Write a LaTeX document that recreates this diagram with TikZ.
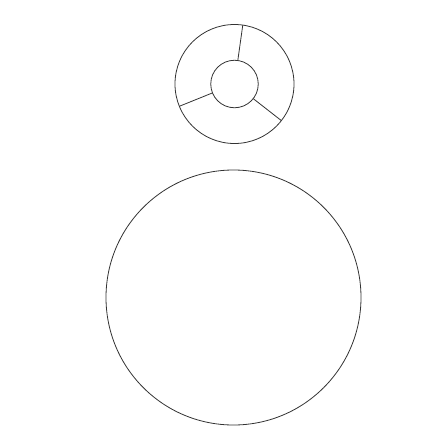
\documentclass[tikz,border=0pt]{standalone}
\usetikzlibrary{positioning}
\begin{document}
\begin{tikzpicture}[x=1pt, y=-1pt]
    % Define styles
    \tikzstyle{disc}=[circle, draw=black!80, line width=0.8pt, inner sep=0pt, outer sep=0pt]
    \tikzstyle{spoke}=[draw=black!80, line width=0.8pt]
    \useasboundingbox (0,0) rectangle (440,440);

    % Ring
    \node[disc, minimum size=119pt] (outer) at (234.5,84) {};
    \node[disc, minimum size=47.5pt] (inner) at (outer.center) {};

    % Spokes
    \foreach \a in {82,202,322}
        \draw[spoke] (inner.\a) -- (outer.\a);

    % Big circle
    \node[disc, minimum size=255pt] (body) [below=26.5pt of outer, xshift=-1pt] {};
\end{tikzpicture}
\end{document}
